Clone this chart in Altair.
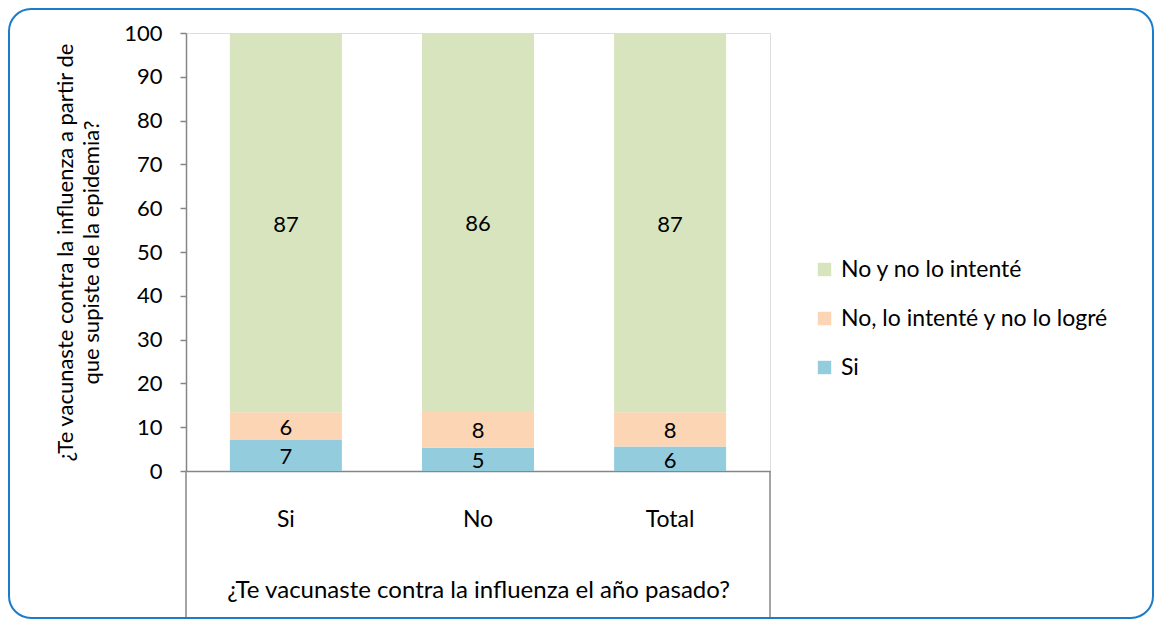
import altair as alt
import pandas as pd

categories = ["Si", "No", "Total"]
series = ["Si", "No, lo intenté y no lo logré", "No y no lo intenté"]
values_si = [7.1, 5.3, 5.6]
values_fail = [6.3, 8.4, 7.8]
values_none = [86.6, 86.3, 86.6]
colors = ["#93cddd", "#fcd5b5", "#d7e4bd"]
y_ticks = [0, 10, 20, 30, 40, 50, 60, 70, 80, 90, 100]

rows = []
for i, c in enumerate(categories):
    for k, (s, vals) in enumerate(zip(series, [values_si, values_fail, values_none])):
        rows.append({"category": c, "series": s, "value": vals[i], "order": k})
df = pd.DataFrame(rows)

FONT = "Lato"
FS = 22
W, H = 584, 438
GRAY = "#868686"

base = alt.Chart(df).transform_stack(
    stack="value", groupby=["category"], as_=["y0", "y1"],
    sort=[alt.SortField("order", order="ascending")]
).transform_calculate(mid="(datum.y0 + datum.y1) / 2")

legend_domain = list(reversed(series))
legend_range = list(reversed(colors))

bars = base.mark_bar(size=112).encode(
    x=alt.X("category:N", sort=categories,
            scale=alt.Scale(paddingInner=0.42, paddingOuter=0.23),
            axis=alt.Axis(title="¿Te vacunaste contra la influenza el año pasado?",
                          labelAngle=0, ticks=False, labelPadding=37,
                          titlePadding=47, domainColor=GRAY, domainWidth=1.5,
                          labelFontSize=23, titleFontSize=24,
                          titleFontWeight="normal", labelColor="black",
                          titleColor="black", labelFont=FONT, titleFont=FONT)),
    y=alt.Y("y0:Q", scale=alt.Scale(domain=[0, 100], nice=False),
            axis=alt.Axis(values=y_ticks, grid=False,
                          title=["¿Te vacunaste contra la influenza a partir de",
                                 "que supiste de la epidemia?"],
                          titlePadding=20, titleFontSize=FS, titleFontWeight="normal",
                          labelFontSize=FS, labelColor="black", titleColor="black",
                          domainColor=GRAY, domainWidth=1.5, tickColor=GRAY,
                          tickSize=6, tickWidth=1.5, labelPadding=18,
                          labelFont=FONT, titleFont=FONT, titleLineHeight=26)),
    y2="y1:Q",
    color=alt.Color("series:N", scale=alt.Scale(domain=legend_domain, range=legend_range),
                    legend=alt.Legend(title=None, orient="none", legendX=627, legendY=225,
                                      symbolType="square", symbolSize=180,
                                      symbolStrokeWidth=0, labelFontSize=23,
                                      labelFont=FONT, labelColor="black",
                                      labelLimit=400, rowPadding=25, labelOffset=5)),
)

labels = base.mark_text(fontSize=FS, font=FONT, color="black", baseline="middle", dy=2).encode(
    x=alt.X("category:N", sort=categories),
    y=alt.Y("mid:Q"),
    text=alt.Text("value:Q", format=".0f"),
)

deco = alt.Data(values=[{"k": 1}])
left_rule = alt.Chart(deco).mark_rule(color=GRAY, strokeWidth=1.5).encode(
    x=alt.value(0), y=alt.value(H), y2=alt.value(585))
right_rule = alt.Chart(deco).mark_rule(color=GRAY, strokeWidth=1.5).encode(
    x=alt.value(W), y=alt.value(H), y2=alt.value(585))
border = alt.Chart(deco).mark_rect(fill=None, stroke="#1b7ccc", strokeWidth=2,
                                   cornerRadius=22).encode(
    x=alt.value(-177), x2=alt.value(967), y=alt.value(-24), y2=alt.value(585))

chart = alt.layer(bars, labels, left_rule, right_rule, border).properties(
    width=W, height=H,
    autosize=alt.AutoSizeParams(type="none"),
    padding={"left": 178, "top": 25, "right": 384, "bottom": 148},
).configure_view(stroke=None).configure(background="white")

chart.save("out.html", embed_options={"renderer": "svg", "actions": False})
